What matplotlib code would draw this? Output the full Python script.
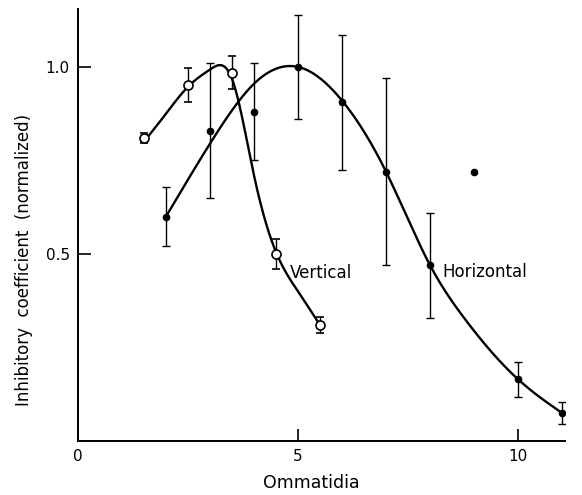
import numpy as np
import matplotlib
matplotlib.use('Agg')
import matplotlib.pyplot as plt

# Horizontal series (filled dots)
horiz_x = [2, 3, 4, 5, 6, 7, 8, 10, 11]
horiz_y = [0.60, 0.83, 0.88, 1.0, 0.905, 0.72, 0.47, 0.165, 0.075]
horiz_err = [0.08, 0.18, 0.13, 0.14, 0.18, 0.25, 0.14, 0.047, 0.03]

# stray point without error bar
extra_x = [9]
extra_y = [0.72]

# Vertical series (open circles)
vert_x = [1.5, 2.5, 3.5, 4.5, 5.5]
vert_y = [0.81, 0.952, 0.985, 0.50, 0.31]
vert_err = [0.014, 0.046, 0.043, 0.04, 0.022]

# hand-drawn curves, knots
vcurve_x = [1.5, 2.0, 2.5, 3.0, 3.5, 4.0, 4.5, 5.0, 5.5]
vcurve_y = [0.80, 0.875, 0.947, 0.993, 0.968, 0.71, 0.505, 0.40, 0.31]
hcurve_x = [2.0, 3.0, 3.6, 4.0, 5.0, 6.0, 7.0, 8.0, 8.8, 10.0, 11.0]
hcurve_y = [0.60, 0.795, 0.90, 0.955, 1.0, 0.91, 0.72, 0.47, 0.325, 0.165, 0.075]


def spline(xk, yk, n=400):
    # natural cubic spline through the knots
    x = np.asarray(xk, float)
    y = np.asarray(yk, float)
    h = np.diff(x)
    m = len(x)
    A = np.zeros((m, m))
    b = np.zeros(m)
    A[0, 0] = A[-1, -1] = 1
    for i in range(1, m - 1):
        A[i, i - 1] = h[i - 1]
        A[i, i] = 2 * (h[i - 1] + h[i])
        A[i, i + 1] = h[i]
        b[i] = 3 * ((y[i + 1] - y[i]) / h[i] - (y[i] - y[i - 1]) / h[i - 1])
    c = np.linalg.solve(A, b)
    xs = np.linspace(x[0], x[-1], n)
    idx = np.clip(np.searchsorted(x, xs) - 1, 0, m - 2)
    dx = xs - x[idx]
    bb = (y[1:] - y[:-1]) / h - h * (2 * c[:-1] + c[1:]) / 3
    d = (c[1:] - c[:-1]) / (3 * h)
    ys = y[idx] + bb[idx] * dx + c[idx] * dx ** 2 + d[idx] * dx ** 3
    return xs, ys


fig = plt.figure(figsize=(5.82, 4.95), dpi=100)
ax = fig.add_axes([0.134, 0.109, 0.837, 0.873])

cx, cy = spline(vcurve_x, vcurve_y)
ax.plot(cx, cy, color='black', lw=1.7, zorder=2)
cx, cy = spline(hcurve_x, hcurve_y)
ax.plot(cx, cy, color='black', lw=1.7, zorder=2)

ax.errorbar(horiz_x, horiz_y, yerr=horiz_err, fmt='o', color='black',
            ms=4.5, elinewidth=1.0, capsize=3, capthick=1.0, zorder=3)
ax.plot(extra_x, extra_y, 'o', color='black', ms=4.5, zorder=3)
ax.errorbar(vert_x, vert_y, yerr=vert_err, fmt='o', color='black',
            mfc='white', mec='black', mew=1.2, ms=6.5,
            elinewidth=1.0, capsize=3, capthick=1.0, zorder=4)

ax.text(4.82, 0.45, 'Vertical', fontsize=12, va='center', ha='left')
ax.text(8.29, 0.452, 'Horizontal', fontsize=12, va='center', ha='left')

ax.set_xlim(0, 11.07)
ax.set_ylim(0, 1.155)
ax.set_xticks([0, 5, 10])
ax.set_xticklabels(['0', '5', '10'])
ax.set_yticks([0.5, 1.0])
ax.set_yticklabels(['0.5', '1.0'])
ax.tick_params(direction='in', length=9, width=1.2, labelsize=11, pad=6)

for s in ['top', 'right']:
    ax.spines[s].set_visible(False)
for s in ['left', 'bottom']:
    ax.spines[s].set_linewidth(1.4)

ax.set_xlabel('Ommatidia', fontsize=12.5)
ax.xaxis.set_label_coords(0.48, -0.076)
ax.xaxis.label.set_va('top')
ax.set_ylabel('Inhibitory  coefficient  (normalized)', fontsize=12)
ax.yaxis.set_label_coords(-0.092, 0.42)

fig.savefig('out.png', dpi=100)
